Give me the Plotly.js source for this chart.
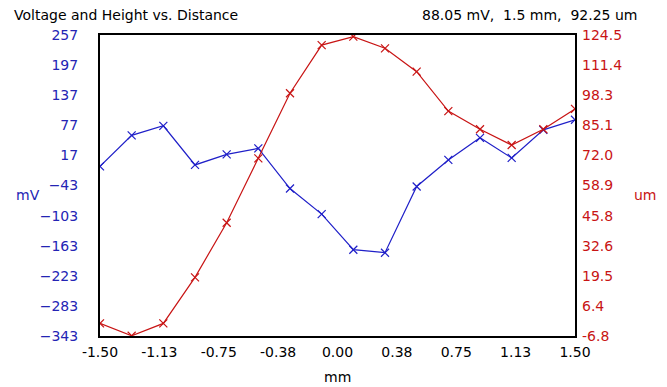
<!DOCTYPE html>
<html>
<head>
<meta charset="utf-8">
<script src="https://cdn.plot.ly/plotly-3.0.1.min.js"></script>
<style>html,body{margin:0;padding:0;background:#fff;}#chart{width:667px;height:387px;}</style>
</head>
<body>
<div id="chart"></div>
<script>
const distance = [-1.5,-1.3,-1.1,-0.9,-0.7,-0.5,-0.3,-0.1,0.1,0.3,0.5,0.7,0.9,1.1,1.3,1.5];
const voltage = [-5,57,76,-2,19,31,-49,-100,-171,-177,-45,8,52,12,68,88.05];
const height = [-1.3,-6.7,-1.3,18.8,42.6,70.7,99.1,120.1,123.8,118.7,108.5,91.3,83.4,76.5,83.4,92.25];

const xTickVals = [-1.5,-1.125,-0.75,-0.375,0,0.375,0.75,1.125,1.5];
const xTickText = ["-1.50","-1.13","-0.75","-0.38","0.00","0.38","0.75","1.13","1.50"];
const mvTickVals = [257,197,137,77,17,-43,-103,-163,-223,-283,-343];
const umTickVals = [-6.8,6.33,19.46,32.59,45.72,58.85,71.98,85.11,98.24,111.37,124.5];
const umTickText = ["-6.8","6.4","19.5","32.6","45.8","58.9","72.0","85.1","98.3","111.4","124.5"];

const blue = '#1f1fc8';
const red = '#c81414';
const font = 'DejaVu Sans, Arial, sans-serif';

const traces = [
  {x: distance, y: height, yaxis: 'y2', type: 'scatter', mode: 'lines+markers',
   line: {color: red, width: 1.2}, marker: {symbol: 'x-thin-open', size: 8, color: red, line: {color: red, width: 1.2}}},
  {x: distance, y: voltage, yaxis: 'y', type: 'scatter', mode: 'lines+markers',
   line: {color: blue, width: 1.2}, marker: {symbol: 'x-thin-open', size: 8, color: blue, line: {color: blue, width: 1.2}}}
];

const layout = {
  width: 667, height: 387,
  margin: {l: 100, r: 92, t: 35, b: 51},
  paper_bgcolor: '#fff', plot_bgcolor: '#fff',
  showlegend: false,
  font: {family: font, size: 14, color: '#000'},
  xaxis: {range: [-1.5, 1.5], tickvals: xTickVals, ticktext: xTickText, showgrid: false, zeroline: false,
    showline: true, mirror: true, linecolor: '#000', linewidth: 2, ticks: '', ticklabelstandoff: 2,
    tickfont: {family: font, size: 14, color: '#000'}},
  yaxis: {range: [-343, 257], tickvals: mvTickVals, showgrid: false, zeroline: false,
    showline: true, mirror: true, linecolor: '#000', linewidth: 2, ticks: '', ticklabelstandoff: 17,
    tickfont: {family: font, size: 14, color: '#2424b4'}},
  yaxis2: {range: [-6.8, 124.5], overlaying: 'y', side: 'right', tickvals: umTickVals, ticktext: umTickText,
    showgrid: false, zeroline: false, showline: false, ticks: '', ticklabelstandoff: 6,
    tickfont: {family: font, size: 14, color: '#c81414'}},
  annotations: [
    {text: 'Voltage and Height vs. Distance', xref: 'paper', yref: 'paper', x: -0.185, y: 1.0, yshift: 20,
     xanchor: 'left', yanchor: 'middle', showarrow: false, font: {family: font, size: 14, color: '#000'}},
    {text: '88.05 mV,  1.5 mm,  92.25 um', xref: 'paper', yref: 'paper', x: 1.135, y: 1.0, yshift: 20,
     xanchor: 'right', yanchor: 'middle', showarrow: false, font: {family: font, size: 14, color: '#000'}},
    {text: 'mV', xref: 'paper', yref: 'paper', x: -0.182, y: 0.47, xanchor: 'left', yanchor: 'middle',
     showarrow: false, font: {family: font, size: 14, color: '#2424b4'}},
    {text: 'um', xref: 'paper', yref: 'paper', x: 1.12, y: 0.47, xanchor: 'left', yanchor: 'middle',
     showarrow: false, font: {family: font, size: 14, color: '#c81414'}},
    {text: 'mm', xref: 'paper', yref: 'paper', x: 0.5, y: 0, yshift: -41, xanchor: 'center', yanchor: 'middle',
     showarrow: false, font: {family: font, size: 14, color: '#000'}}
  ]
};

Plotly.newPlot('chart', traces, layout, {displayModeBar: false, staticPlot: true});
</script>
</body>
</html>
